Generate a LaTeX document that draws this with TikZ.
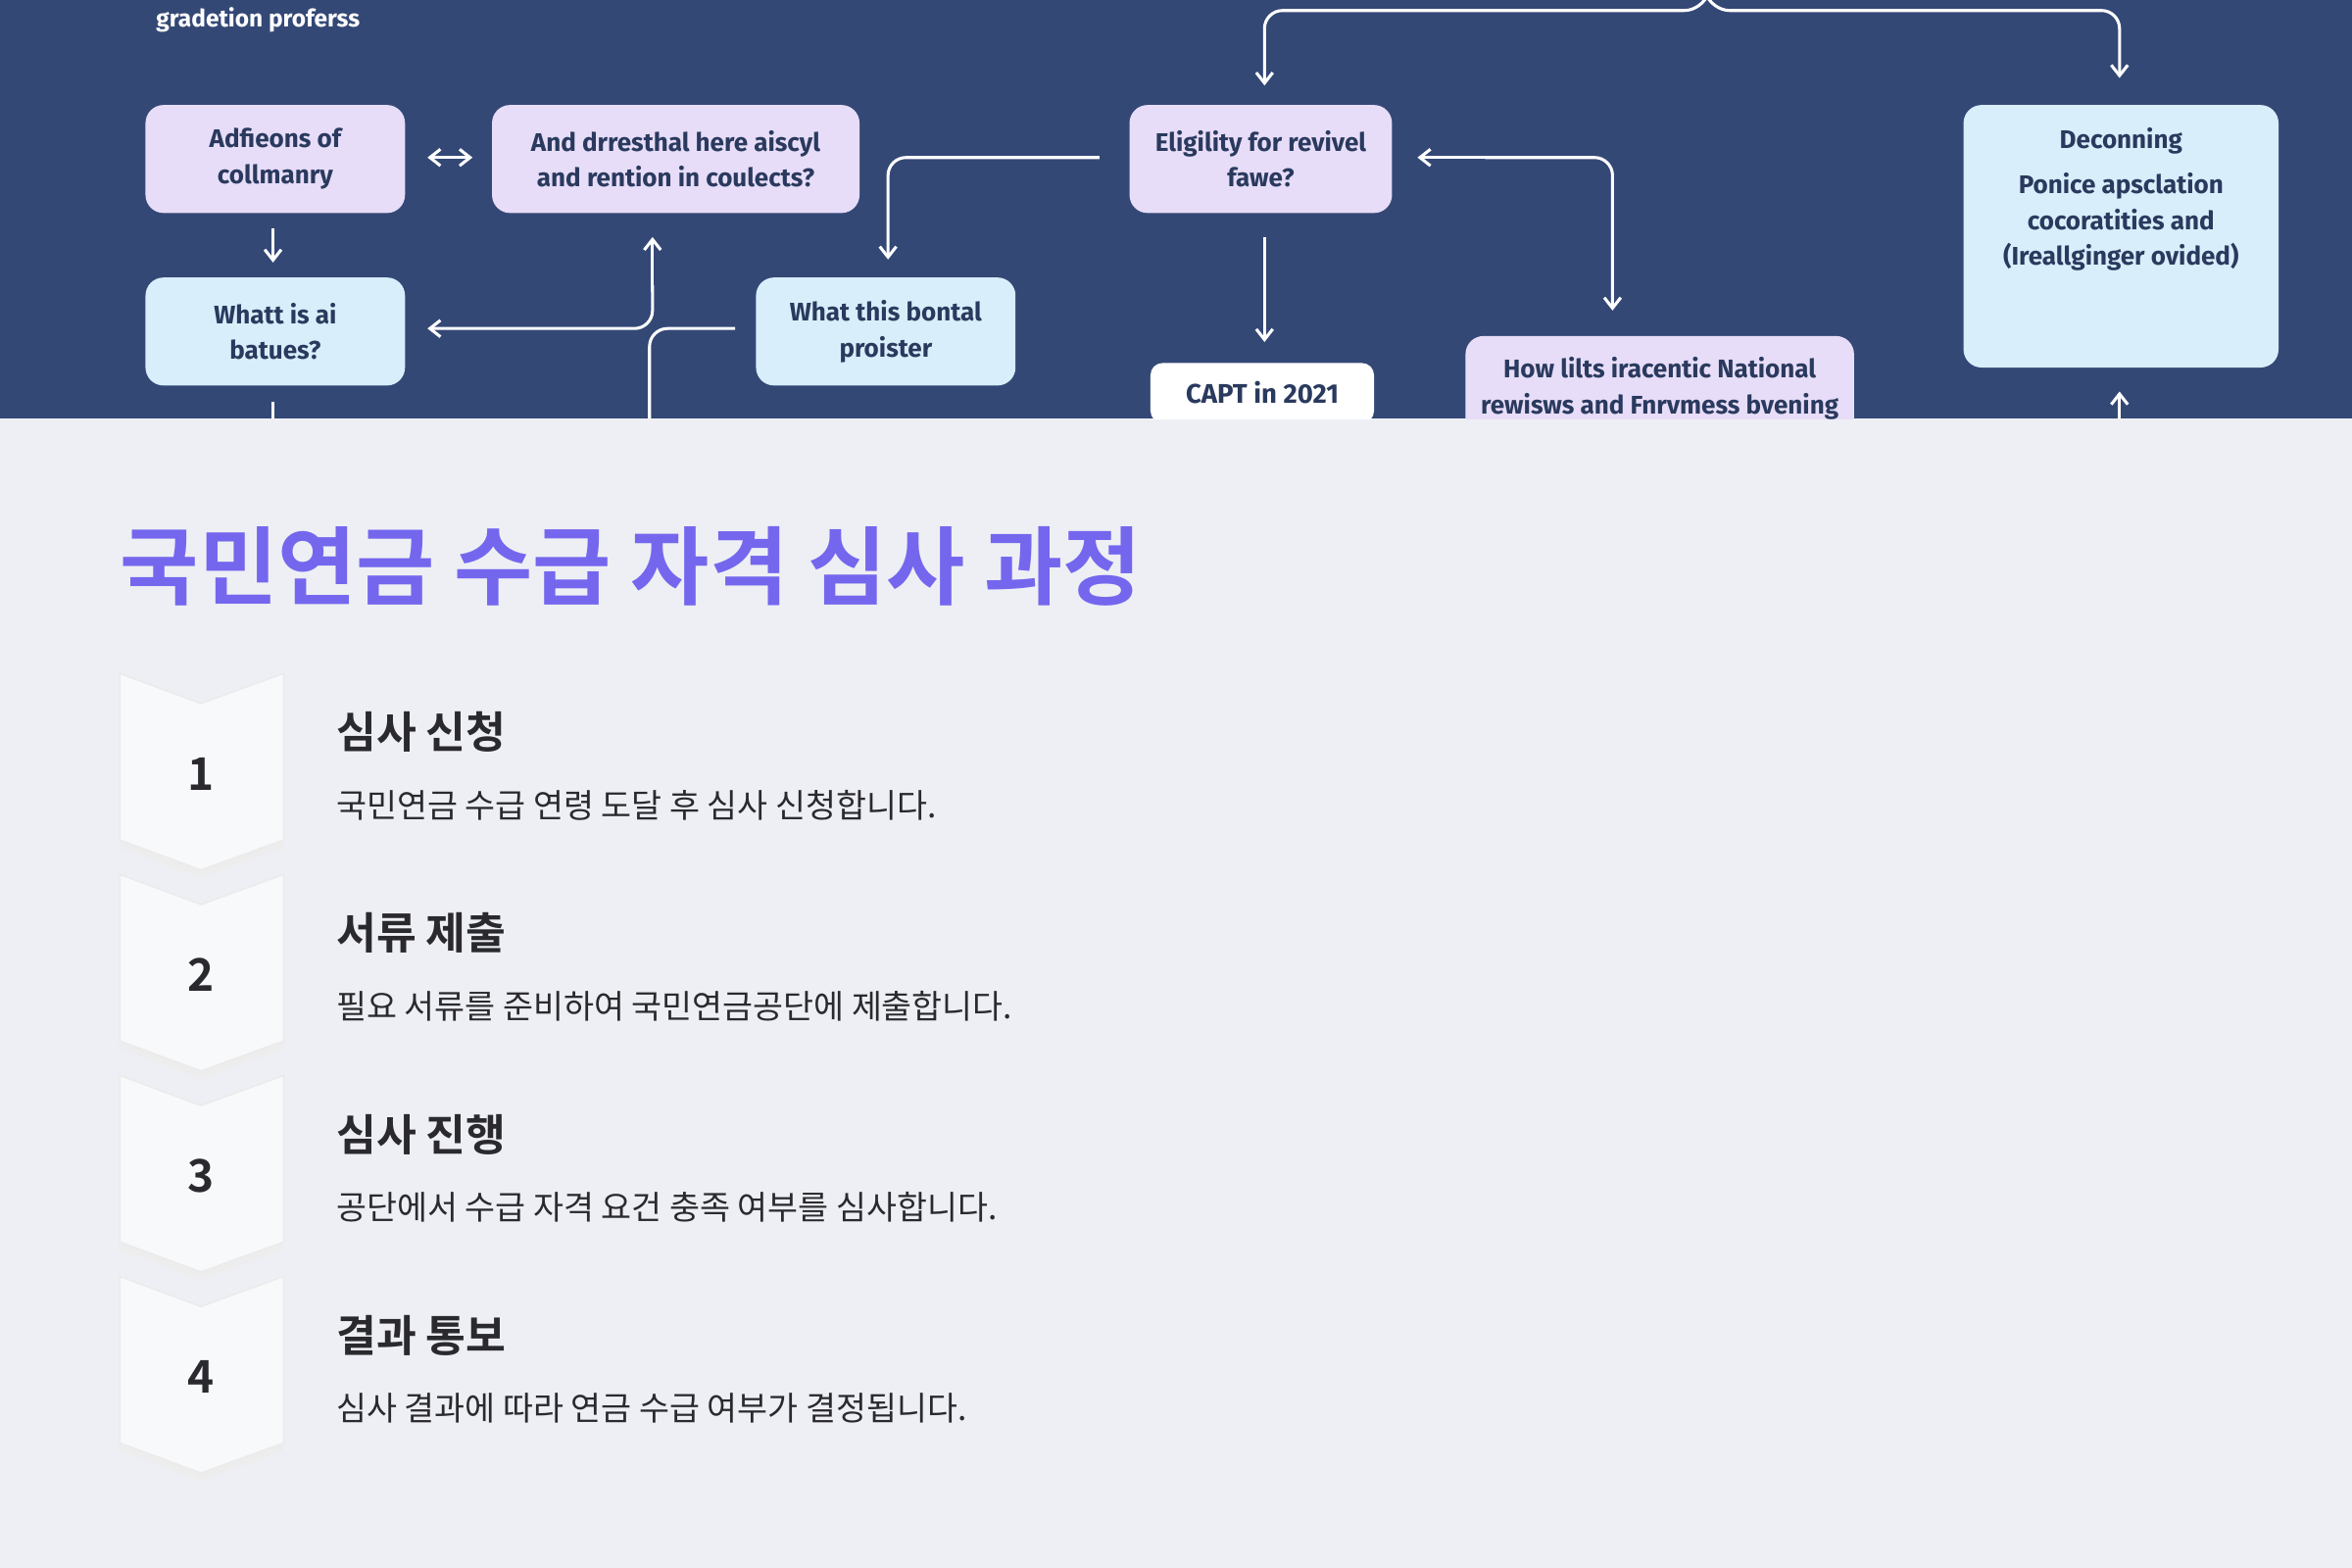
\documentclass[tikz,border=0pt]{standalone}
\usepackage{fontspec}
\setmainfont{Fira Sans}
\newfontfamily\kr{Noto Sans CJK KR}
\newfontfamily\krb{Noto Sans CJK KR Bold}
\usetikzlibrary{arrows.meta}
\definecolor{navy}{HTML}{344876}
\definecolor{lav}{HTML}{E7DDF8}
\definecolor{lblue}{HTML}{D8EEFB}
\definecolor{pagebg}{HTML}{EEEFF4}
\definecolor{ttl}{HTML}{7467EE}
\definecolor{dark}{HTML}{2A2A2E}
\tikzset{
 box/.style={rounded corners=12pt,align=center,text=navy!80!black,font=\fontsize{17}{24}\selectfont\bfseries,inner sep=0pt},
 wire/.style={draw=white,line width=2pt,rounded corners=12pt,-{Straight Barb[length=7pt,width=11pt]}},
 plain/.style={draw=white,line width=2pt,rounded corners=12pt},
 chev/.style={fill=white!60!pagebg,draw=black!8,line width=1pt},
}
\begin{document}
\begin{tikzpicture}[x=1pt,y=-1pt]
\useasboundingbox (0,0) rectangle (1568,1045);
\fill[pagebg] (0,0) rectangle (1568,1045);
\fill[navy] (0,0) rectangle (1568,279);
\begin{scope}
\clip (0,0) rectangle (1568,279);
\node[text=white,font=\fontsize{16}{18}\selectfont\bfseries] (gp) at (172,13) {gradetion proferss};
\node[box,fill=lav,minimum width=173pt,minimum height=72pt] (A) at (183.5,106) {Adfieons of\\collmanry};
\node[box,fill=lav,minimum width=245pt,minimum height=72pt] (B) at (450.5,106) {And drresthal here aiscyl\\and rention in coulects?};
\node[box,fill=lav,minimum width=175pt,minimum height=72pt] (C) at (840.5,106) {Eligility for revivel\\fawe?};
\node[box,fill=lblue,minimum width=210pt,minimum height=175pt] (D) at (1414,157.5) {};
\node[box] (Dt) at (1414,94) {Deconning};
\node[box] (Dd) at (1414,148) {Ponice apsclation\\cocoratities and\\(Ireallginger ovided)};
\node[box,fill=lblue,minimum width=173pt,minimum height=72pt] (E) at (183.5,221) {Whatt is ai\\batues?};
\node[box,fill=lblue,minimum width=173pt,minimum height=72pt] (F) at (590.5,221) {What this bontal\\proister};
\node[box,fill=white,rounded corners=8pt,minimum width=149pt,minimum height=40pt,font=\fontsize{18}{20}\selectfont\bfseries] (G) at (841.5,262) {CAPT in 2021};
\node[box,fill=lav,minimum width=259pt,minimum height=72pt] (H) at (1106.5,260) {};
\node[box] (Ht) at (1106.5,259) {How lilts iracentic National\\rewisws and Fnrvmess bvening};
\coordinate (t1) at (1138,-2);
\coordinate (eb) at (182,279);
\coordinate (fb) at (433,279);
\coordinate (db) at (1413,279);
\draw[wire,{Straight Barb[length=7pt,width=11pt]}-{Straight Barb[length=7pt,width=11pt]}] (285,105) -- (315,105);
\draw[wire] (182,152) -- (182,175);
\draw[wire] (435,195) -- (435,158);
\draw[wire] (435,190) -- (435,219) -- (285,219);
\draw[plain] (490,219) -- (433,219) -- (fb);
\draw[wire] (733,105) -- (592,105) -- (592,173);
\draw[wire] (843,158) -- (843,228);
\draw[wire] (1000,105) -- (945,105);
\draw[wire] (990,105) -- (1075,105) -- (1075,207);
\draw[wire] (t1) -- (1135,7) -- (843,7) -- (843,57);
\draw[wire] (t1) -- (1141,7) -- (1413,7) -- (1413,52);
\draw[plain] (182,268) -- (eb);
\draw[wire] (db) -- (1413,261);
\draw[white,line width=1.5pt] (290,-1) -- (735,-1);
\end{scope}
\node[anchor=base west,text=ttl,font=\krb\fontsize{57}{62}\selectfont,inner sep=0pt] (title) at (80,399) {국민연금 수급 자격 심사 과정};
\foreach \i/\t/\d in {0/심사 신청/국민연금 수급 연령 도달 후 심사 신청합니다.,1/서류 제출/필요 서류를 준비하여 국민연금공단에 제출합니다.,2/심사 진행/공단에서 수급 자격 요건 충족 여부를 심사합니다.,3/결과 통보/심사 결과에 따라 연금 수급 여부가 결정됩니다.}{
 \begin{scope}[yshift=-134*\i]
 \fill[black!7] (80,453) -- (134,473) -- (189,453) -- (189,565) -- (134,585) -- (80,565) -- cycle;
 \filldraw[chev] (80,449) -- (134,469) -- (189,449) -- (189,560) -- (134,580) -- (80,560) -- cycle;
 \node[text=dark,font=\krb\fontsize{30}{32}\selectfont] (n\i) at (134,516) {\the\numexpr\i+1\relax};
 \node[anchor=base west,inner sep=0pt,text=dark,font=\krb\fontsize{29}{32}\selectfont] (h\i) at (224,499) {\t};
 \node[anchor=base west,inner sep=0pt,text=dark,font=\kr\fontsize{22}{24}\selectfont] (d\i) at (224,545) {\d};
 \end{scope}
}
\end{tikzpicture}
\end{document}
